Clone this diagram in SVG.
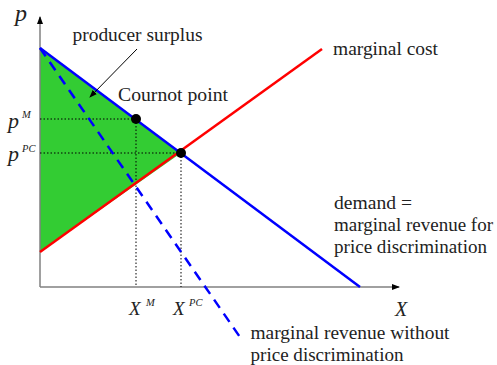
<svg xmlns="http://www.w3.org/2000/svg" width="497" height="365" viewBox="0 0 497 365">
<defs>
<marker id="ax" markerWidth="8" markerHeight="6" refX="7" refY="3" orient="auto" markerUnits="userSpaceOnUse">
<path d="M0,0 L8,3 L0,6 Z" fill="#000"/>
</marker>
<marker id="ar" markerWidth="8" markerHeight="8" refX="7" refY="4" orient="auto" markerUnits="userSpaceOnUse">
<path d="M0,1 L8,4 L0,7 Z" fill="#000"/>
</marker>
</defs>
<rect width="497" height="365" fill="#fff"/>
<g id="surplus"><polygon points="40,48 181,153 40,252" fill="#33cc33"/></g>
<g id="axes">
<line x1="40" y1="287" x2="40" y2="17" stroke="#808080" stroke-width="1.5" marker-end="url(#ax)"/>
<line x1="40" y1="287" x2="399" y2="287" stroke="#808080" stroke-width="1.5" marker-end="url(#ax)"/>
</g>
<g id="connectors">
<g stroke="#000" stroke-width="1" stroke-dasharray="1.5,2" fill="none">
<line x1="40" y1="119" x2="136" y2="119"/>
<line x1="40" y1="153" x2="181" y2="153"/>
<line x1="136" y1="119" x2="136" y2="287"/>
<line x1="181" y1="153" x2="181" y2="287"/>
</g>
<line id="demand" stroke="#0000ff" stroke-width="2.5" x1="40" y1="48" x2="360" y2="287"/>
<line id="mc" x1="40" y1="252" x2="322" y2="49" stroke="#ff0000" stroke-width="2.5"/>
<line id="mr" stroke="#0000ff" stroke-width="2.5" x1="40" y1="48" x2="242" y2="340" stroke-dasharray="10,7"/>
<line x1="137" y1="49" x2="90" y2="97" stroke="#000" stroke-width="1" marker-end="url(#ar)"/>
</g>
<g id="cournot"><circle cx="136" cy="119" r="5" fill="#000"/></g>
<g id="competitive"><circle cx="181" cy="153" r="5" fill="#000"/></g>
<g id="labels" fill="#222">
<text font-family="'Liberation Serif', 'Times New Roman', serif" font-size="18.5" x="118" y="101" textLength="110" lengthAdjust="spacingAndGlyphs">Cournot point</text>
<text font-family="'Liberation Serif', 'Times New Roman', serif" font-size="18.5" x="72.5" y="41" textLength="130" lengthAdjust="spacingAndGlyphs">producer surplus</text>
<text font-family="'Liberation Serif', 'Times New Roman', serif" font-size="18.5" x="333" y="55" textLength="105" lengthAdjust="spacingAndGlyphs">marginal cost</text>
<text font-family="'Liberation Serif', 'Times New Roman', serif" font-size="18.5" x="334" y="208.5" textLength="78" lengthAdjust="spacingAndGlyphs">demand =</text>
<text font-family="'Liberation Serif', 'Times New Roman', serif" font-size="18.5" x="334" y="231" textLength="159" lengthAdjust="spacingAndGlyphs">marginal revenue for</text>
<text font-family="'Liberation Serif', 'Times New Roman', serif" font-size="18.5" x="334" y="253" textLength="153" lengthAdjust="spacingAndGlyphs">price discrimination</text>
<text font-family="'Liberation Serif', 'Times New Roman', serif" font-size="18.5" x="250.5" y="339" textLength="199" lengthAdjust="spacingAndGlyphs">marginal revenue without</text>
<text font-family="'Liberation Serif', 'Times New Roman', serif" font-size="18.5" x="250.5" y="361" textLength="153" lengthAdjust="spacingAndGlyphs">price discrimination</text>
</g>
<g id="axislabels" fill="#222" font-style="italic">
<text font-family="'Liberation Serif', 'Times New Roman', serif" font-size="24" x="15" y="21">p</text>
<text font-family="'Liberation Serif', 'Times New Roman', serif" font-size="22" x="8" y="128">p</text>
<text font-family="'Liberation Serif', 'Times New Roman', serif" font-size="10.5" x="22" y="118">M</text>
<text font-family="'Liberation Serif', 'Times New Roman', serif" font-size="22" x="8" y="161">p</text>
<text font-family="'Liberation Serif', 'Times New Roman', serif" font-size="10.5" x="22" y="152">PC</text>
<text font-family="'Liberation Serif', 'Times New Roman', serif" font-size="19" x="129" y="315">X</text>
<text font-family="'Liberation Serif', 'Times New Roman', serif" font-size="10.5" x="146" y="306">M</text>
<text font-family="'Liberation Serif', 'Times New Roman', serif" font-size="19" x="173" y="315">X</text>
<text font-family="'Liberation Serif', 'Times New Roman', serif" font-size="10.5" x="189" y="306">PC</text>
<text font-family="'Liberation Serif', 'Times New Roman', serif" font-size="20" x="395" y="316">X</text>
</g>
</svg>
